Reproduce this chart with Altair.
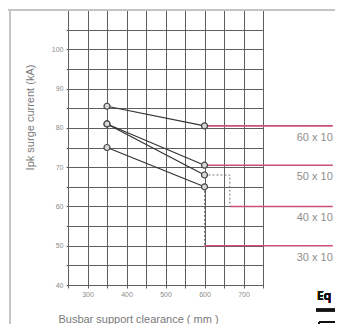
import altair as alt
import pandas as pd

# ---- data ----
series = ["60 x 10", "50 x 10", "40 x 10", "30 x 10"]
clearance = [350, 600]                       # mm
current_at_350 = [85.5, 81.0, 81.0, 75.0]    # kA
current_at_600 = [80.5, 70.5, 68.0, 65.0]    # kA
ref_level = [80.5, 70.5, 60.0, 50.0]         # kA, level of the red reference line
ref_start = [600, 600, 665, 600]             # mm, where the red line starts
ref_end = 929                                # mm (runs past the grid)
x_ticks = list(range(250, 751, 50))
y_ticks = list(range(40, 111, 5))

# ---- tables ----
pts = pd.DataFrame(
    [{"series": s, "clearance": clearance[0], "current": a, "o": 0} for s, a in zip(series, current_at_350)]
    + [{"series": s, "clearance": clearance[1], "current": b, "o": 1} for s, b in zip(series, current_at_600)]
)
ref = pd.DataFrame({"series": series, "x0": ref_start, "x1": [ref_end] * 4, "y": ref_level})

# dotted connectors from the 600 mm point to the start of the red line
conn_rows = []
for s, b, lvl, st in zip(series, current_at_600, ref_level, ref_start):
    if abs(b - lvl) < 0.01:
        continue
    path = [(600, b), (st, b), (st, lvl)] if st != 600 else [(600, b), (600, lvl)]
    for i, (cx, cy) in enumerate(path):
        conn_rows.append({"series": s, "cx": cx, "cy": cy, "o": i})
conn = pd.DataFrame(conn_rows)

GRID = "#5e5e5e"
LABEL = "#8c8c8c"
FONT = "Liberation Sans"

xs = alt.Scale(domain=[250, 750], nice=False, zero=False)
ys = alt.Scale(domain=[40, 110], nice=False, zero=False)

x_axis = alt.Axis(
    values=x_ticks, grid=True, gridColor=GRID, gridWidth=1, gridOpacity=1,
    domainColor=GRID, tickColor=GRID, tickSize=3,
    labelExpr="datum.value % 100 == 0 ? datum.label : ''",
    labelFontSize=7, labelColor=LABEL, labelFont=FONT, labelPadding=2,
    title="Busbar support clearance ( mm )", titleFont=FONT, titleFontSize=11,
    titleFontWeight="normal", titleColor="#7a7a7a",
    titleX=70, titleY=37, titleBaseline="alphabetic", titleAlign="center",
)
y_axis = alt.Axis(
    values=y_ticks, grid=True, gridColor=GRID, gridWidth=1, gridOpacity=1,
    domainColor=GRID, tickColor=GRID, tickSize=2,
    labelExpr="(datum.value % 10 == 0 && datum.value < 110) ? datum.label : ''",
    labelFontSize=7, labelColor=LABEL, labelFont=FONT, labelPadding=3,
    title="Ipk surge current (kA)", titleFont=FONT, titleFontSize=11,
    titleFontWeight="normal", titleColor="#7a7a7a",
    titleX=-38, titleY=107, titleAngle=270, titleBaseline="middle", titleAlign="center",
)


def X(field):
    return alt.X(field, type="quantitative", scale=xs, axis=x_axis)


def Y(field):
    return alt.Y(field, type="quantitative", scale=ys, axis=y_axis)


base_grid = alt.Chart(pts).mark_point(opacity=0).encode(x=X("clearance"), y=Y("current"))

red = alt.Chart(ref).mark_rule(color="#c8507a", strokeWidth=1.6, clip=False).encode(
    x=X("x0"), x2="x1:Q", y=Y("y")
)
red_labels = alt.Chart(ref).mark_text(
    align="right", baseline="middle", dy=12, fontSize=11, color="#8e8e8e", font=FONT, clip=False
).encode(x=X("x1"), y=Y("y"), text="series:N")

dotted = alt.Chart(conn).mark_line(color="#777777", strokeWidth=1, strokeDash=[2, 2], clip=False).encode(
    x=X("cx"), y=Y("cy"), detail="series:N", order="o:Q"
)

lines = alt.Chart(pts).mark_line(color="#333333", strokeWidth=1.2).encode(
    x=X("clearance"), y=Y("current"), detail="series:N", order="o:Q"
)
dots = alt.Chart(pts).mark_point(
    shape="circle", size=36, filled=True, fill="#d8d8d8", stroke="#444444", strokeWidth=1.2, opacity=1
).encode(x=X("clearance"), y=Y("current"))

# page decorations: outer frame and the start of the next section ("Eq")
frame_left = alt.Chart(pts).mark_rule(color="#c4c4c4", strokeWidth=2, clip=False).encode(
    x=alt.value(-58), y=alt.value(0), y2=alt.value(330)
)
frame_top = alt.Chart(pts).mark_rule(color="#c4c4c4", strokeWidth=2, clip=False).encode(
    x=alt.value(-60), x2=alt.value(290), y=alt.value(0)
)
eq_text = alt.Chart(pts).mark_text(
    text="Eq", align="left", baseline="alphabetic", fontSize=12, font="Open Sans",
    fontWeight=600, color="#111111", clip=False
).encode(x=alt.value(249), y=alt.value(290))
eq_line = alt.Chart(pts).mark_rule(color="#111111", strokeWidth=2.5, clip=False).encode(
    x=alt.value(248), x2=alt.value(290), y=alt.value(300)
)
box_top = alt.Chart(pts).mark_rule(color="#111111", strokeWidth=2, clip=False).encode(
    x=alt.value(251), x2=alt.value(290), y=alt.value(312)
)
box_left = alt.Chart(pts).mark_rule(color="#111111", strokeWidth=2, clip=False).encode(
    x=alt.value(251), y=alt.value(312), y2=alt.value(330)
)

chart = alt.layer(
    base_grid, frame_left, frame_top, red, red_labels, dotted, lines, dots,
    eq_text, eq_line, box_top, box_left
).properties(
    width=195, height=275,
    autosize=alt.AutoSizeParams(type="none"),
    padding={"left": 60, "top": 2, "right": 72, "bottom": 39},
    background="white",
).configure_view(stroke=None)

chart.save("out.html", embed_options={"renderer": "svg", "actions": False})
